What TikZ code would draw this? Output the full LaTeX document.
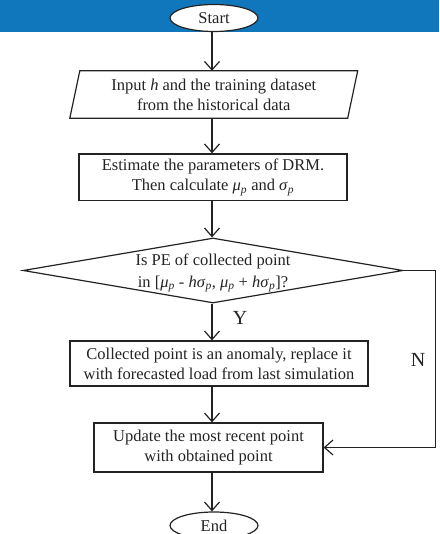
\documentclass[tikz,border=0pt]{standalone}
\usepackage{fontspec}
\setmainfont{Liberation Serif}
\usetikzlibrary{shapes.geometric,arrows.meta}
\definecolor{band}{RGB}{17,119,189}
\definecolor{ln}{RGB}{35,35,35}
\newcommand{\gsub}[1]{\textit{#1}\textsubscript{\textit{p}}}
\begin{document}
\begin{tikzpicture}[x=1pt,y=-1pt,
  every node/.style={font=\fontsize{16.5}{20}\selectfont, text=ln, align=center},
  box/.style={draw=ln, line width=1.2pt, rectangle, inner sep=0pt},
  term/.style={draw=ln, line width=1.2pt, ellipse, fill=white, minimum width=88pt, minimum height=27pt, inner sep=0pt},
  arr/.style={draw=ln, line width=1.2pt, -{Straight Barb[length=8.5pt,width=15pt]}},
  lbl/.style={font=\fontsize{20}{24}\selectfont}]
\useasboundingbox (0,0) rectangle (439,534);
\fill[band] (0,0) rectangle (439,32);
\coordinate (sp) at (212,0);
\node[term] (start) at (214,18) {Start};
\node[inner sep=0pt, minimum width=277.5pt, minimum height=47pt] (input) at (213.75,94.5)
  {Input \textit{h} and the training dataset\\from the historical data};
\draw[draw=ln, line width=1.2pt] ([xshift=5pt]input.north west) -- ([xshift=5pt]input.north east)
  -- ([xshift=-5pt]input.south east) -- ([xshift=-5pt]input.south west) -- cycle;
\node[box, minimum width=268pt, minimum height=46.7pt] (est) at (213,177.3)
  {Estimate the parameters of DRM.\\Then calculate \gsub{μ} and \gsub{σ}};
\node[draw=ln, line width=1.2pt, diamond, inner sep=0pt, minimum width=380pt, minimum height=65pt] (dec) at (213,270.5) {};
\node[font=\fontsize{16.5}{22}\selectfont] (dectxt) at (213,273)
  {Is PE of collected point\\in [\gsub{μ} - \textit{h}\gsub{σ}, \gsub{μ} + \textit{h}\gsub{σ}]?};
\node[box, minimum width=298pt, minimum height=45pt] (coll) at (219,363.5)
  {Collected point is an anomaly, replace it\\with forecasted load from last simulation};
\node[box, minimum width=229pt, minimum height=49pt] (upd) at (208.5,447.5)
  {Update the most recent point\\with obtained point};
\node[term] (stop) at (214,525.5) {End};
\node[lbl] (ylab) at (240,318) {Y};
\node[lbl] (nlab) at (418,360) {N};
\draw[arr] (start.south -| sp) -- (input.north -| sp);
\draw[arr] (input.south -| sp) -- (est.north -| sp);
\draw[arr] (est.south -| sp) -- (dec.north -| sp);
\draw[arr] (dec.south -| sp) -- (coll.north -| sp);
\draw[arr] (coll.south -| sp) -- (upd.north -| sp);
\draw[arr] (upd.south -| sp) -- (stop.north -| sp);
\draw[arr] (dec.east) -- ++(32,0) |- (upd.east);
\end{tikzpicture}
\end{document}
